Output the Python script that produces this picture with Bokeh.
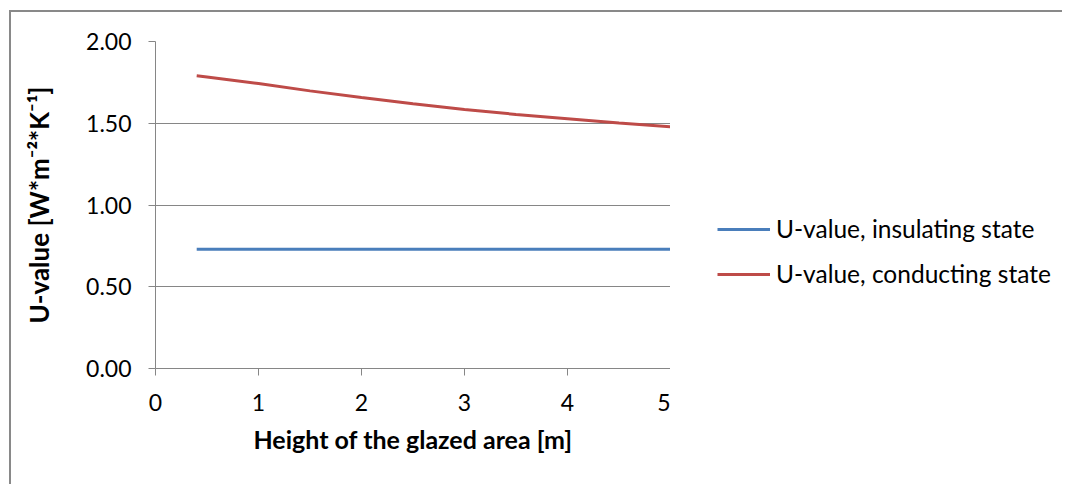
from bokeh.plotting import figure
from bokeh.layouts import row
from bokeh.models import Range1d, Legend, LegendItem, FixedTicker, CustomJSTickFormatter, InlineStyleSheet
from bokeh.embed import file_html
from bokeh.resources import INLINE

# Data
heights = [0.4, 0.5, 1.0, 1.5, 2.0, 2.5, 3.0, 3.5, 4.0, 4.5, 5.0]
u_insulating = [0.73, 0.73, 0.73, 0.73, 0.73, 0.73, 0.73, 0.73, 0.73, 0.73, 0.73]
u_conducting = [1.790, 1.783, 1.743, 1.698, 1.657, 1.619, 1.584, 1.554, 1.528, 1.502, 1.478]
series_names = ["U-value, insulating state", "U-value, conducting state"]
series_colors = ["#4A7EBB", "#BE4B48"]
x_ticks = [0, 1, 2, 3, 4, 5]
y_ticks = [0.0, 0.5, 1.0, 1.5, 2.0]
x_title = "Height of the glazed area [m]"
y_title = "U-value [W*m\u207b\u00b2*K\u207b\u00b9]"

FONT = "Lato"
GRAY = "#868686"
H = 476

p = figure(width=670, height=H, output_backend="svg", toolbar_location=None,
           x_range=Range1d(0, 5), y_range=Range1d(0, 2),
           min_border_left=155, min_border_right=0, min_border_top=41, min_border_bottom=108)
p.outline_line_color = None
p.background_fill_color = "white"
p.border_fill_color = "white"

r1 = p.line(heights, u_insulating, line_color=series_colors[0], line_width=3)
r2 = p.line(heights, u_conducting, line_color=series_colors[1], line_width=3)

p.xgrid.visible = False
p.ygrid.ticker = FixedTicker(ticks=y_ticks)
p.ygrid.grid_line_color = GRAY
p.ygrid.grid_line_width = 1

p.xaxis.ticker = FixedTicker(ticks=x_ticks)
p.yaxis.ticker = FixedTicker(ticks=y_ticks)
p.yaxis.formatter = CustomJSTickFormatter(code="return tick.toFixed(2);")
for ax in (p.xaxis, p.yaxis):
    ax.axis_line_color = GRAY
    ax.major_tick_line_color = GRAY
    ax.major_tick_in = 0
    ax.major_tick_out = 7
    ax.minor_tick_line_color = None
    ax.major_label_text_font = FONT
    ax.major_label_text_font_size = "23px"
    ax.major_label_text_color = "black"
    ax.axis_label_text_font = FONT
    ax.axis_label_text_font_style = "bold"
    ax.axis_label_text_color = "black"
p.xaxis.axis_label_text_font_size = "25px"
p.yaxis.axis_label_text_font_size = "26px"
p.xaxis.major_label_standoff = 18
p.yaxis.major_label_standoff = 17
p.xaxis.axis_label = x_title
p.yaxis.axis_label = y_title
p.xaxis.axis_label_standoff = 10
p.yaxis.axis_label_standoff = 28

# legend panel: a second canvas to the right of the plot area; its proxy lines
# carry the same series but lie outside its (hidden) ranges, so only the legend shows
q = figure(width=392, height=H, output_backend="svg", toolbar_location=None,
           x_range=Range1d(10, 11), y_range=Range1d(10, 11),
           min_border_left=0, min_border_right=0, min_border_top=41, min_border_bottom=108)
q.axis.visible = False
q.grid.visible = False
q.outline_line_color = None
q.background_fill_color = "white"
q.border_fill_color = "white"
l1 = q.line(heights, u_insulating, line_color=series_colors[0], line_width=3)
l2 = q.line(heights, u_conducting, line_color=series_colors[1], line_width=3)
legend = Legend(items=[LegendItem(label=series_names[0], renderers=[l1]),
                       LegendItem(label=series_names[1], renderers=[l2])],
                location=(47, 80), orientation="vertical",
                padding=0, margin=0, spacing=16,
                glyph_width=53, glyph_height=24, label_height=24, label_standoff=6,
                label_text_font=FONT, label_text_font_size="24.5px", label_text_color="black",
                border_line_alpha=0, background_fill_alpha=0)
q.add_layout(legend, "center")

layout = row(p, q, spacing=0)
# outer chart border (cropped frame, only top and left edges visible)
layout.stylesheets = [InlineStyleSheet(css="""
:host { position: relative; }
:host::before { content: ""; position: absolute; left: 9px; top: 10px;
  right: 0px; bottom: -8px; border: 0 none; z-index: 5; pointer-events: none;
  background:
    linear-gradient(#898989, #898989) left top / 100% 2px no-repeat,
    linear-gradient(#898989, #898989) left top / 2px 100% no-repeat; }
""")]

open("out.html", "w").write(file_html(layout, INLINE))
